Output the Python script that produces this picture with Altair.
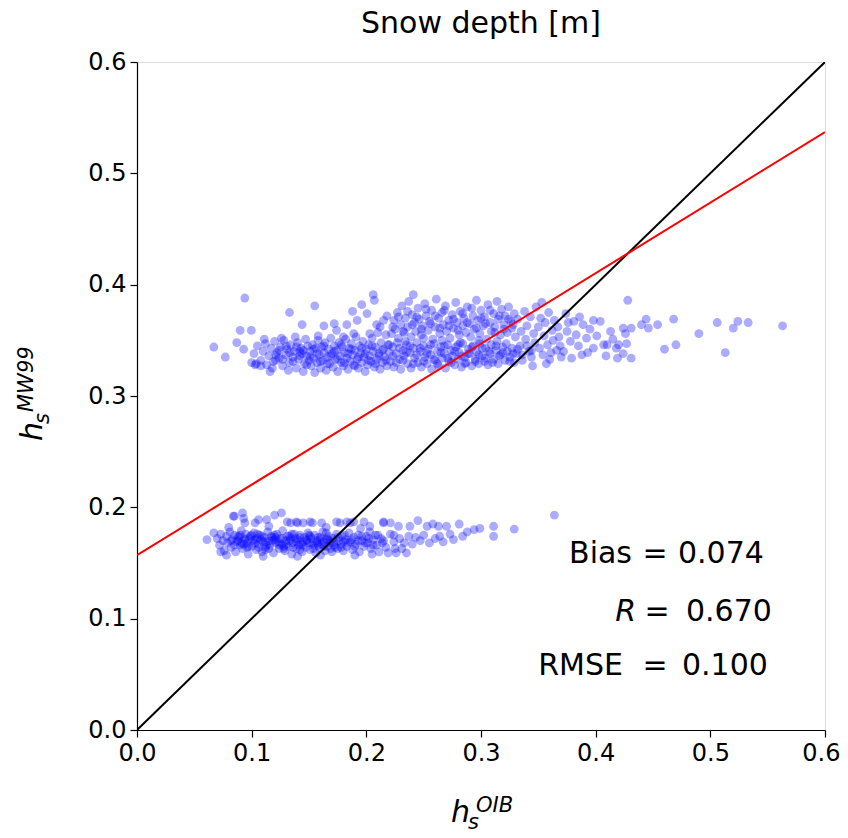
import altair as alt
import pandas as pd

# ---------------- data ----------------
# upper cluster (MW99 ~ 0.33-0.39)
upper_a = [(0.102,0.338),(0.105,0.345),(0.108,0.332),(0.110,0.340),(0.112,0.347),(0.113,0.328),(0.115,0.336),(0.117,0.343),(0.119,0.331),(0.120,0.349),(0.122,0.339),(0.124,0.334),(0.125,0.344),(0.127,0.327),(0.128,0.350),(0.130,0.337),(0.131,0.342),(0.133,0.330),(0.134,0.346),(0.136,0.335),(0.137,0.340),(0.139,0.325),(0.140,0.348),(0.141,0.333),(0.143,0.343),(0.144,0.338),(0.146,0.329),(0.147,0.351),(0.148,0.336),(0.149,0.345),(0.150,0.332),(0.111,0.351),(0.118,0.325),(0.126,0.352),(0.132,0.323),(0.138,0.353),(0.145,0.322),(0.104,0.329),(0.121,0.332),(0.142,0.340)]
upper_b = [(0.151,0.340),(0.152,0.327),(0.153,0.346),(0.154,0.334),(0.155,0.321),(0.156,0.343),(0.157,0.330),(0.158,0.350),(0.159,0.337),(0.160,0.325),(0.161,0.344),(0.162,0.332),(0.163,0.339),(0.164,0.348),(0.165,0.323),(0.166,0.335),(0.167,0.342),(0.168,0.329),(0.169,0.352),(0.170,0.338),(0.171,0.326),(0.172,0.345),(0.173,0.333),(0.174,0.341),(0.175,0.322),(0.176,0.348),(0.177,0.336),(0.178,0.330),(0.179,0.344),(0.180,0.327),(0.181,0.339),(0.182,0.351),(0.183,0.334),(0.184,0.324),(0.185,0.343),(0.186,0.331),(0.187,0.347),(0.188,0.337),(0.189,0.328),(0.190,0.341),(0.191,0.353),(0.192,0.333),(0.193,0.325),(0.194,0.345),(0.195,0.338),(0.196,0.330),(0.197,0.349),(0.198,0.335),(0.199,0.322),(0.200,0.342),(0.201,0.328),(0.202,0.346),(0.203,0.336),(0.204,0.331),(0.205,0.352),(0.206,0.340),(0.207,0.326),(0.208,0.344),(0.209,0.333),(0.210,0.357),(0.211,0.338),(0.212,0.324),(0.213,0.348),(0.214,0.330),(0.215,0.342),(0.216,0.335),(0.217,0.355),(0.218,0.327),(0.219,0.346),(0.220,0.339)]
upper_sparse_left = [(0.163,0.363),(0.172,0.365),(0.174,0.359),(0.183,0.364),(0.158,0.354),(0.180,0.353),(0.189,0.356),(0.192,0.368),(0.188,0.376),(0.196,0.382),(0.2006,0.374),(0.206,0.391),(0.207,0.386),(0.209,0.364),(0.215,0.368),(0.133,0.375),(0.155,0.381),(0.144,0.364),(0.094,0.388),(0.067,0.344),(0.077,0.335),(0.090,0.359),(0.0997,0.359),(0.087,0.348),(0.093,0.342),(0.116,0.322),(0.100,0.330),(0.103,0.328),(0.108,0.327)]
upper_c_low = [(0.221,0.331),(0.223,0.344),(0.224,0.326),(0.226,0.338),(0.227,0.348),(0.229,0.333),(0.230,0.324),(0.232,0.341),(0.233,0.336),(0.235,0.346),(0.236,0.329),(0.238,0.339),(0.239,0.325),(0.241,0.343),(0.242,0.334),(0.244,0.348),(0.245,0.330),(0.247,0.340),(0.248,0.326),(0.250,0.345),(0.251,0.335),(0.253,0.329),(0.254,0.342),(0.256,0.337),(0.257,0.324),(0.259,0.347),(0.260,0.332),(0.262,0.340),(0.263,0.327),(0.265,0.344),(0.266,0.334),(0.268,0.338),(0.269,0.325),(0.271,0.346),(0.272,0.331),(0.274,0.341),(0.275,0.336),(0.277,0.328),(0.278,0.344),(0.280,0.333),(0.281,0.339),(0.283,0.326),(0.284,0.347),(0.286,0.335),(0.287,0.330),(0.289,0.342),(0.290,0.338),(0.292,0.327),(0.293,0.345),(0.295,0.333),(0.296,0.340),(0.298,0.329),(0.299,0.347),(0.301,0.336),(0.303,0.331),(0.304,0.343),(0.306,0.328),(0.308,0.338),(0.309,0.346),(0.311,0.333),(0.313,0.341),(0.315,0.329),(0.317,0.337),(0.319,0.344),(0.321,0.332),(0.323,0.340),(0.325,0.335),(0.327,0.343),(0.329,0.330)]
upper_c_high = [(0.222,0.356),(0.224,0.368),(0.225,0.360),(0.227,0.375),(0.228,0.352),(0.230,0.364),(0.231,0.381),(0.233,0.357),(0.234,0.370),(0.236,0.362),(0.237,0.385),(0.239,0.353),(0.240,0.373),(0.241,0.391),(0.242,0.366),(0.243,0.358),(0.245,0.379),(0.246,0.369),(0.248,0.355),(0.249,0.363),(0.251,0.383),(0.252,0.372),(0.254,0.359),(0.255,0.367),(0.257,0.377),(0.258,0.351),(0.260,0.362),(0.261,0.387),(0.263,0.370),(0.264,0.356),(0.266,0.375),(0.267,0.364),(0.269,0.381),(0.270,0.358),(0.272,0.368),(0.273,0.352),(0.275,0.373),(0.276,0.361),(0.278,0.384),(0.279,0.366),(0.281,0.355),(0.282,0.376),(0.284,0.363),(0.285,0.370),(0.287,0.357),(0.288,0.380),(0.290,0.365),(0.291,0.353),(0.293,0.372),(0.294,0.360),(0.296,0.386),(0.297,0.368),(0.299,0.356),(0.300,0.377),(0.302,0.363),(0.303,0.371),(0.305,0.351),(0.306,0.382),(0.308,0.366),(0.309,0.358),(0.311,0.374),(0.312,0.362),(0.314,0.385),(0.315,0.369),(0.317,0.355),(0.318,0.378),(0.320,0.364),(0.321,0.372),(0.323,0.357),(0.324,0.380),(0.326,0.367),(0.327,0.361),(0.329,0.374),(0.330,0.353)]
upper_core2 = [(0.121,0.337),(0.124,0.341),(0.127,0.333),(0.130,0.345),(0.133,0.339),(0.136,0.331),(0.139,0.344),(0.142,0.336),(0.145,0.341),(0.148,0.328),(0.151,0.335),(0.154,0.342),(0.157,0.338),(0.160,0.331),(0.163,0.345),(0.166,0.329),(0.169,0.336),(0.172,0.340),(0.175,0.333),(0.178,0.346),(0.181,0.330),(0.184,0.338),(0.187,0.342),(0.190,0.327),(0.193,0.335),(0.196,0.343),(0.199,0.338),(0.202,0.332),(0.205,0.345),(0.208,0.329),(0.211,0.336),(0.214,0.341),(0.217,0.332),(0.220,0.346),(0.223,0.336),(0.226,0.330),(0.229,0.343),(0.232,0.332),(0.235,0.339),(0.238,0.345),(0.241,0.329),(0.244,0.337),(0.247,0.343),(0.250,0.331),(0.253,0.338),(0.256,0.346),(0.259,0.333),(0.262,0.329),(0.265,0.339),(0.268,0.345),(0.271,0.334),(0.274,0.330),(0.277,0.340),(0.280,0.346),(0.283,0.336),(0.286,0.329),(0.289,0.338),(0.292,0.344),(0.295,0.331),(0.298,0.337),(0.301,0.343),(0.304,0.334),(0.307,0.340),(0.310,0.330),(0.313,0.345),(0.316,0.336),(0.319,0.339),(0.322,0.347),(0.325,0.331),(0.328,0.338),(0.332,0.342),(0.336,0.337),(0.340,0.345),(0.344,0.341)]
upper_core3 = [(0.223,0.362),(0.228,0.371),(0.232,0.358),(0.236,0.376),(0.240,0.364),(0.244,0.371),(0.248,0.360),(0.252,0.378),(0.256,0.365),(0.260,0.372),(0.264,0.361),(0.268,0.377),(0.272,0.363),(0.276,0.369),(0.280,0.359),(0.284,0.374),(0.288,0.366),(0.292,0.379),(0.296,0.361),(0.300,0.370),(0.304,0.365),(0.308,0.377),(0.312,0.357),(0.316,0.372),(0.320,0.360),(0.324,0.369),(0.328,0.364),(0.234,0.349),(0.250,0.352),(0.266,0.350),(0.282,0.348),(0.298,0.350),(0.314,0.349),(0.203,0.356),(0.212,0.362),(0.218,0.372)]
upper_d = [(0.331,0.338),(0.332,0.369),(0.334,0.345),(0.335,0.358),(0.336,0.332),(0.338,0.376),(0.339,0.351),(0.340,0.363),(0.342,0.340),(0.343,0.371),(0.344,0.335),(0.346,0.356),(0.347,0.348),(0.348,0.380),(0.350,0.362),(0.351,0.343),(0.352,0.370),(0.354,0.337),(0.355,0.354),(0.356,0.366),(0.358,0.346),(0.359,0.375),(0.360,0.333),(0.362,0.359),(0.363,0.350),(0.364,0.368),(0.366,0.341),(0.367,0.362),(0.368,0.353),(0.370,0.335),(0.345,0.327),(0.357,0.329),(0.369,0.345),(0.361,0.339),(0.353,0.384)]
upper_e = [(0.428,0.386),(0.468,0.369),(0.506,0.366),(0.524,0.367),(0.533,0.366),(0.520,0.361),(0.563,0.363),(0.490,0.356),(0.513,0.339),(0.470,0.346),(0.460,0.342),(0.440,0.364),(0.444,0.369),(0.446,0.361),(0.454,0.364),(0.431,0.361),(0.424,0.361),(0.426,0.356),(0.427,0.347),(0.420,0.346),(0.418,0.343),(0.424,0.338),(0.419,0.334),(0.431,0.334),(0.413,0.358),(0.410,0.346),(0.404,0.367),(0.398,0.368),(0.389,0.364),(0.388,0.337),(0.398,0.343),(0.407,0.346),(0.381,0.367),(0.375,0.358),(0.372,0.340),(0.378,0.349),(0.383,0.355),(0.392,0.352),(0.395,0.360),(0.385,0.345),(0.401,0.354),(0.376,0.366),(0.393,0.339),(0.415,0.351),(0.379,0.334),(0.409,0.336),(0.386,0.371),(0.374,0.374)]

# lower cluster (MW99 ~ 0.16-0.19)
lower_a = [(0.070,0.172),(0.072,0.166),(0.073,0.176),(0.075,0.170),(0.076,0.161),(0.078,0.174),(0.079,0.168),(0.081,0.178),(0.082,0.164),(0.083,0.171),(0.085,0.175),(0.086,0.160),(0.087,0.169),(0.089,0.173),(0.090,0.166),(0.091,0.179),(0.092,0.163),(0.094,0.171),(0.095,0.176),(0.096,0.168),(0.097,0.158),(0.099,0.174),(0.100,0.165),(0.101,0.170),(0.102,0.177),(0.104,0.162),(0.105,0.172),(0.106,0.167),(0.107,0.175),(0.109,0.160),(0.110,0.169),(0.111,0.173),(0.112,0.164),(0.114,0.178),(0.115,0.170),(0.116,0.166),(0.117,0.174),(0.119,0.159),(0.120,0.171),(0.121,0.168),(0.122,0.176),(0.124,0.163),(0.125,0.172),(0.126,0.167),(0.127,0.179),(0.129,0.161),(0.130,0.170),(0.131,0.174),(0.132,0.165),(0.134,0.172),(0.135,0.158),(0.136,0.168),(0.137,0.176),(0.139,0.163),(0.140,0.171),(0.141,0.166),(0.142,0.175),(0.144,0.160),(0.145,0.169),(0.146,0.173),(0.147,0.164),(0.149,0.177),(0.150,0.168),(0.151,0.162),(0.152,0.172),(0.154,0.166),(0.155,0.175),(0.156,0.159),(0.157,0.170),(0.159,0.164),(0.160,0.173),(0.161,0.167),(0.162,0.178),(0.164,0.161),(0.165,0.171),(0.166,0.165),(0.167,0.174),(0.169,0.168),(0.170,0.160),(0.171,0.172),(0.172,0.166),(0.174,0.176),(0.175,0.163),(0.176,0.170),(0.178,0.167),(0.179,0.174),(0.180,0.161),(0.182,0.171),(0.183,0.165),(0.185,0.177),(0.186,0.169),(0.188,0.162),(0.189,0.173),(0.191,0.167),(0.193,0.175),(0.194,0.160),(0.196,0.170),(0.198,0.165),(0.200,0.174)]
lower_core = [(0.088,0.170),(0.093,0.167),(0.098,0.172),(0.103,0.168),(0.108,0.171),(0.113,0.166),(0.118,0.173),(0.123,0.169),(0.128,0.165),(0.133,0.170),(0.138,0.172),(0.143,0.167),(0.148,0.171),(0.153,0.168),(0.158,0.173),(0.163,0.169),(0.168,0.170),(0.090,0.175),(0.096,0.164),(0.105,0.176),(0.112,0.162),(0.120,0.175),(0.128,0.163),(0.135,0.176),(0.142,0.162),(0.150,0.175),(0.158,0.166),(0.165,0.177),(0.173,0.164),(0.180,0.169)]
lower_core2 = [(0.082,0.170),(0.085,0.166),(0.088,0.174),(0.091,0.168),(0.094,0.172),(0.097,0.165),(0.100,0.175),(0.103,0.171),(0.106,0.164),(0.109,0.174),(0.112,0.169),(0.115,0.163),(0.118,0.170),(0.121,0.173),(0.124,0.166),(0.127,0.172),(0.130,0.167),(0.133,0.174),(0.136,0.164),(0.139,0.169),(0.142,0.173),(0.145,0.166),(0.148,0.170),(0.151,0.174),(0.154,0.163),(0.157,0.168),(0.160,0.171),(0.163,0.165),(0.166,0.172),(0.169,0.163),(0.172,0.169),(0.175,0.173),(0.178,0.164),(0.181,0.175),(0.184,0.168),(0.187,0.171),(0.190,0.165),(0.193,0.170),(0.196,0.174),(0.199,0.168),(0.202,0.172),(0.206,0.166),(0.210,0.175),(0.214,0.168)]
lower_b = [(0.201,0.168),(0.203,0.178),(0.204,0.163),(0.206,0.171),(0.208,0.175),(0.209,0.166),(0.211,0.160),(0.213,0.172),(0.215,0.170),(0.217,0.164),(0.219,0.159),(0.221,0.176),(0.224,0.175),(0.224,0.169),(0.225,0.163),(0.226,0.159),(0.228,0.183),(0.229,0.172),(0.231,0.163),(0.233,0.168),(0.235,0.159),(0.237,0.174),(0.238,0.183),(0.240,0.167),(0.243,0.173),(0.245,0.188),(0.247,0.170),(0.250,0.175),(0.253,0.183),(0.255,0.168),(0.258,0.185),(0.260,0.172),(0.263,0.183),(0.264,0.174),(0.267,0.169),(0.270,0.183),(0.273,0.176),(0.276,0.171),(0.281,0.185),(0.284,0.174),(0.288,0.178),(0.294,0.180),(0.299,0.181),(0.311,0.183),(0.311,0.174),(0.329,0.1805),(0.364,0.193),(0.215,0.186),(0.221,0.186),(0.203,0.183),(0.215,0.187)]
lower_edge = [(0.061,0.171),(0.067,0.177),(0.084,0.192),(0.092,0.195),(0.093,0.190),(0.094,0.186),(0.103,0.186),(0.113,0.189),(0.120,0.193),(0.126,0.195),(0.073,0.160),(0.134,0.186),(0.140,0.186),(0.145,0.186),(0.153,0.186),(0.161,0.186),(0.177,0.186),(0.186,0.186),(0.198,0.187),(0.085,0.192),(0.106,0.189),(0.131,0.187),(0.139,0.187),(0.151,0.187),(0.174,0.187),(0.183,0.187),(0.189,0.187),(0.080,0.182),(0.115,0.183),(0.165,0.182),(0.195,0.181),(0.078,0.157),(0.110,0.156),(0.140,0.156),(0.160,0.157),(0.190,0.157),(0.205,0.158)]

line_x = [0.0, 0.6]
one_to_one_y = [0.0, 0.6]
fit_y = [0.157, 0.537]

tick_values = [0.0, 0.1, 0.2, 0.3, 0.4, 0.5, 0.6]
chart_title = "Snow depth [m]"
stat_names = ["Bias", "R", "RMSE"]
stat_values = ["0.074", "0.670", "0.100"]

# ---------------- build ----------------
FONT = "DejaVu Sans"
W, H = 688, 668

pts = []
for grp in (upper_a, upper_b, upper_sparse_left, upper_c_low, upper_c_high, upper_core2,
            upper_core3, upper_d, upper_e, lower_a, lower_core, lower_core2, lower_b, lower_edge):
    pts.extend(grp)
scatter_df = pd.DataFrame(pts, columns=["x", "y"])

xscale = alt.Scale(domain=[0, 0.6], nice=False, zero=False)
yscale = alt.Scale(domain=[0, 0.6], nice=False, zero=False)
common_axis = dict(values=tick_values, format=".1f", title=None, grid=False,
                   labelFontSize=24, labelFont=FONT, labelColor="black",
                   tickColor="black", tickSize=7, tickWidth=1.2,
                   domainColor="black", domainWidth=1.2, labelPadding=4,
                   labelFlush=False, labelOverlap=False)
# keep the last x label inside the page: right-align it just past its tick
xaxis = alt.Axis(
    labelAlign={"condition": {"test": "datum.value > 0.55", "value": "right"}, "value": "center"},
    labelOffset={"condition": {"test": "datum.value > 0.55", "value": 15}, "value": 0},
    **common_axis)
yaxis = alt.Axis(labelAlign="right", labelBaseline="middle", **common_axis)

scatter = alt.Chart(scatter_df).mark_circle(size=78, color="#0000ff", opacity=0.33).encode(
    x=alt.X("x:Q", scale=xscale, axis=xaxis),
    y=alt.Y("y:Q", scale=yscale, axis=yaxis),
)

one_df = pd.DataFrame({"x": line_x, "y": one_to_one_y})
fit_df = pd.DataFrame({"x": line_x, "y": fit_y})
one_line = alt.Chart(one_df).mark_line(color="black", strokeWidth=2, clip=True).encode(
    x=alt.X("x:Q", scale=xscale), y=alt.Y("y:Q", scale=yscale))
fit_line = alt.Chart(fit_df).mark_line(color="#ff0000", strokeWidth=2, clip=True).encode(
    x=alt.X("x:Q", scale=xscale), y=alt.Y("y:Q", scale=yscale))


def label(txt, x, y, size, align="left", style="normal", angle=0):
    kw = dict(text=txt, align=align, baseline="alphabetic", font=FONT,
              fontSize=size, fontStyle=style, color="black")
    if angle:
        kw["angle"] = angle
    return alt.Chart(pd.DataFrame({"k": [0]})).mark_text(**kw).encode(
        x=alt.value(x), y=alt.value(y))


texts = [
    label(chart_title, W / 2, -29, 30, align="center"),
    # stats
    label(stat_names[0], 495, 501, 30, align="right"),
    label("=", 518, 501, 30, align="center"),
    label(stat_values[0], 541, 501, 30),
    label(stat_names[1], 499, 559, 30, align="right", style="italic"),
    label("=", 520, 559, 30, align="center"),
    label(stat_values[1], 549, 559, 30),
    label(stat_names[2], 486, 613, 30, align="right"),
    label("=", 518, 613, 30, align="center"),
    label(stat_values[2], 545, 613, 30),
    # x-axis title  h_s^OIB
    label("h", 314, 760, 30, style="italic"),
    label("s", 331, 767, 21, style="italic"),
    label("OIB", 339, 750, 21, style="italic"),
    # y-axis title  h_s^MW99 (rotated)
    label("h", -95, 379, 30, style="italic", angle=270),
    label("s", -88, 362, 21, style="italic", angle=270),
    label("MW99", -104, 350, 21, style="italic", angle=270),
]

chart = alt.layer(scatter, one_line, fit_line, *texts).properties(
    width=W, height=H,
    autosize=alt.AutoSizeParams(type="none"),
    padding={"left": 129, "top": 54, "right": 15, "bottom": 102},
).configure_view(stroke="black", strokeWidth=1.2).configure(background="white")

chart.save("out.html", embed_options={"renderer": "svg", "actions": False})
